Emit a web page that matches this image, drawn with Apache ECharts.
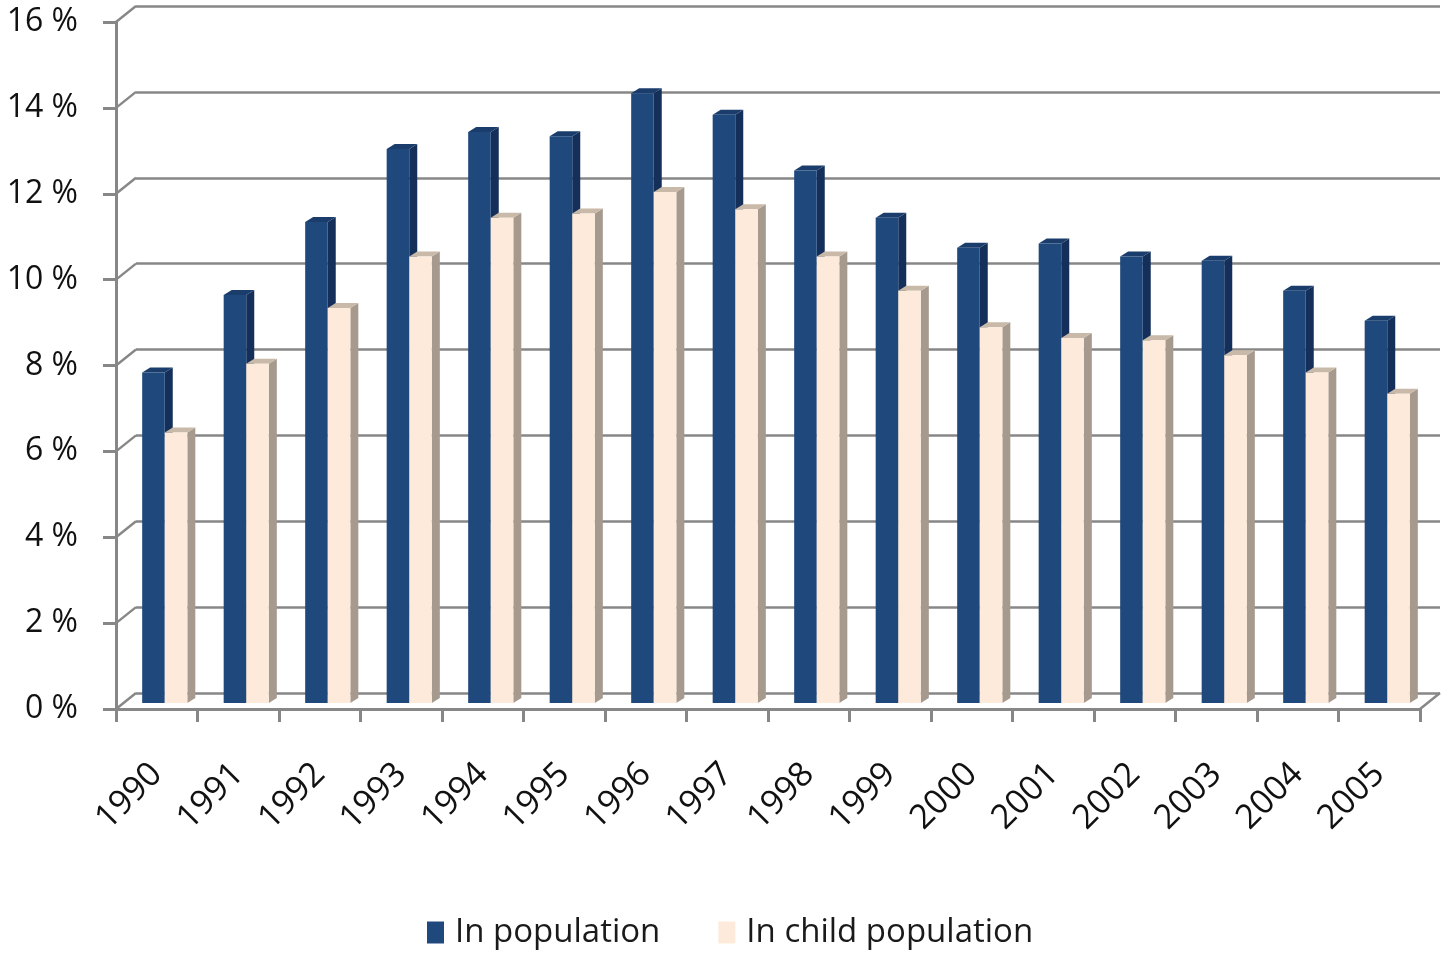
<!DOCTYPE html>
<html>
<head>
<meta charset="utf-8">
<script src="https://cdn.jsdelivr.net/npm/echarts@6/dist/echarts.min.js"></script>
<style>
html,body{margin:0;padding:0;background:#fff;}
#chart{width:1443px;height:954px;}
</style>
</head>
<body>
<div id="chart"></div>
<script>
// ---- data ----
const years = ['1990','1991','1992','1993','1994','1995','1996','1997','1998','1999','2000','2001','2002','2003','2004','2005'];
const inPopulation = [7.7, 9.5, 11.2, 12.9, 13.3, 13.2, 14.2, 13.7, 12.4, 11.3, 10.6, 10.7, 10.4, 10.3, 9.6, 8.9];
const inChildPopulation = [6.3, 7.9, 9.2, 10.4, 11.3, 11.4, 11.9, 11.5, 10.4, 9.6, 8.75, 8.5, 8.45, 8.1, 7.7, 7.2];
const seriesNames = ['In population', 'In child population'];
const yTicks = [0, 2, 4, 6, 8, 10, 12, 14, 16];

// ---- style ----
const FONT = 'Open Sans';
const GRID_COLOR = '#878787';
const DARK = {front: '#1F487C', side: '#14305A', top: '#1A3D6B'};
const LIGHT = {front: '#FDEADA', side: '#A69A8E', top: '#C9B9A8'};
const WALL_DX = 20, WALL_DY = 16;   // depth of the 3D wall
const BAR_OX = 8, BAR_OY = 6;       // bar plane offset from front plane
const BAR_DX = 8, BAR_DY = 5;       // bar depth
const BAR_W = 0.277;                // bar width as fraction of band

function barRenderer(which, colors) {
  return function (params, api) {
    const i = api.value(0), v = api.value(1);
    const base = api.coord([i, 0]);
    const topP = api.coord([i, v]);
    const band = api.size([1, 0])[0];
    const w = band * BAR_W;
    const cx = base[0] + BAR_OX;
    const x0 = which === 0 ? cx - w : cx;
    const x1 = x0 + w;
    const yb = base[1] - BAR_OY;
    const yt = topP[1] - BAR_OY;
    return {
      type: 'group',
      children: [
        {type: 'polygon', shape: {points: [[x1, yt], [x1 + BAR_DX, yt - BAR_DY], [x1 + BAR_DX, yb - BAR_DY], [x1, yb]]},
          style: {fill: colors.side}},
        {type: 'polygon', shape: {points: [[x0, yt], [x0 + BAR_DX, yt - BAR_DY], [x1 + BAR_DX, yt - BAR_DY], [x1, yt]]},
          style: {fill: colors.top}},
        {type: 'rect', shape: {x: x0, y: yt, width: w, height: yb - yt}, style: {fill: colors.front}}
      ]
    };
  };
}

function wallRenderer(params, api) {
  const v = api.value(0);
  const band = api.size([1, 0])[0];
  const p = api.coord([0, v]);
  const xl = p[0] - band / 2;
  const children = [{
    type: 'line', shape: {x1: xl, y1: p[1], x2: xl + WALL_DX, y2: p[1] - WALL_DY},
    style: {stroke: GRID_COLOR, lineWidth: 2.5}
  }];
  if (v === 0) {
    const pr = api.coord([years.length - 1, 0]);
    const xr = pr[0] + band / 2;
    children.push({
      type: 'line', shape: {x1: xr, y1: pr[1], x2: xr + WALL_DX, y2: pr[1] - WALL_DY},
      style: {stroke: GRID_COLOR, lineWidth: 2.5}
    });
  }
  return {type: 'group', children: children};
}

const chart = echarts.init(document.getElementById('chart'));
chart.setOption({
  backgroundColor: '#fff',
  animation: false,
  textStyle: {fontFamily: FONT},
  legend: {
    data: [{name: seriesNames[0], icon: 'rect'}, {name: seriesNames[1], icon: 'rect'}],
    left: 422, top: 911,
    itemWidth: 17, itemHeight: 22, itemGap: 58,
    textStyle: {fontFamily: FONT, fontSize: 33, color: '#1a1a1a', padding: [0, 0, 0, 6]}
  },
  grid: [
    {left: 116, right: 23, top: 22, bottom: 245},
    {left: 136, right: 3, top: 6, bottom: 261}
  ],
  xAxis: [
    {
      type: 'category', gridIndex: 0, data: years, boundaryGap: true,
      axisLine: {show: true, lineStyle: {color: GRID_COLOR, width: 3}},
      axisTick: {show: true, length: 13, lineStyle: {color: GRID_COLOR, width: 3}},
      axisLabel: {rotate: 45, margin: 60, fontSize: 34, color: '#111', fontFamily: FONT}
    },
    {type: 'category', gridIndex: 1, data: years, show: false}
  ],
  yAxis: [
    {
      type: 'value', gridIndex: 0, min: 0, max: 16, interval: 2,
      axisLine: {show: true, lineStyle: {color: GRID_COLOR, width: 3}},
      axisTick: {show: true, length: 13, lineStyle: {color: GRID_COLOR, width: 3}},
      splitLine: {show: false},
      axisLabel: {margin: 38, fontSize: 32, color: '#111', fontFamily: FONT, formatter: '{value} %'}
    },
    {
      type: 'value', gridIndex: 1, min: 0, max: 16, interval: 2,
      axisLine: {show: false}, axisTick: {show: false}, axisLabel: {show: false},
      splitLine: {show: true, lineStyle: {color: GRID_COLOR, width: 2.5}}
    }
  ],
  series: [
    {
      type: 'custom', name: 'wall', xAxisIndex: 0, yAxisIndex: 0, silent: true,
      data: yTicks.map(t => [t]), renderItem: wallRenderer, z: 1
    },
    {
      type: 'custom', name: seriesNames[0], xAxisIndex: 0, yAxisIndex: 0,
      itemStyle: {color: DARK.front},
      data: inPopulation.map((v, i) => [i, v]),
      renderItem: barRenderer(0, DARK), z: 3
    },
    {
      type: 'custom', name: seriesNames[1], xAxisIndex: 0, yAxisIndex: 0,
      itemStyle: {color: LIGHT.front},
      data: inChildPopulation.map((v, i) => [i, v]),
      renderItem: barRenderer(1, LIGHT), z: 4
    }
  ]
});
</script>
</body>
</html>
